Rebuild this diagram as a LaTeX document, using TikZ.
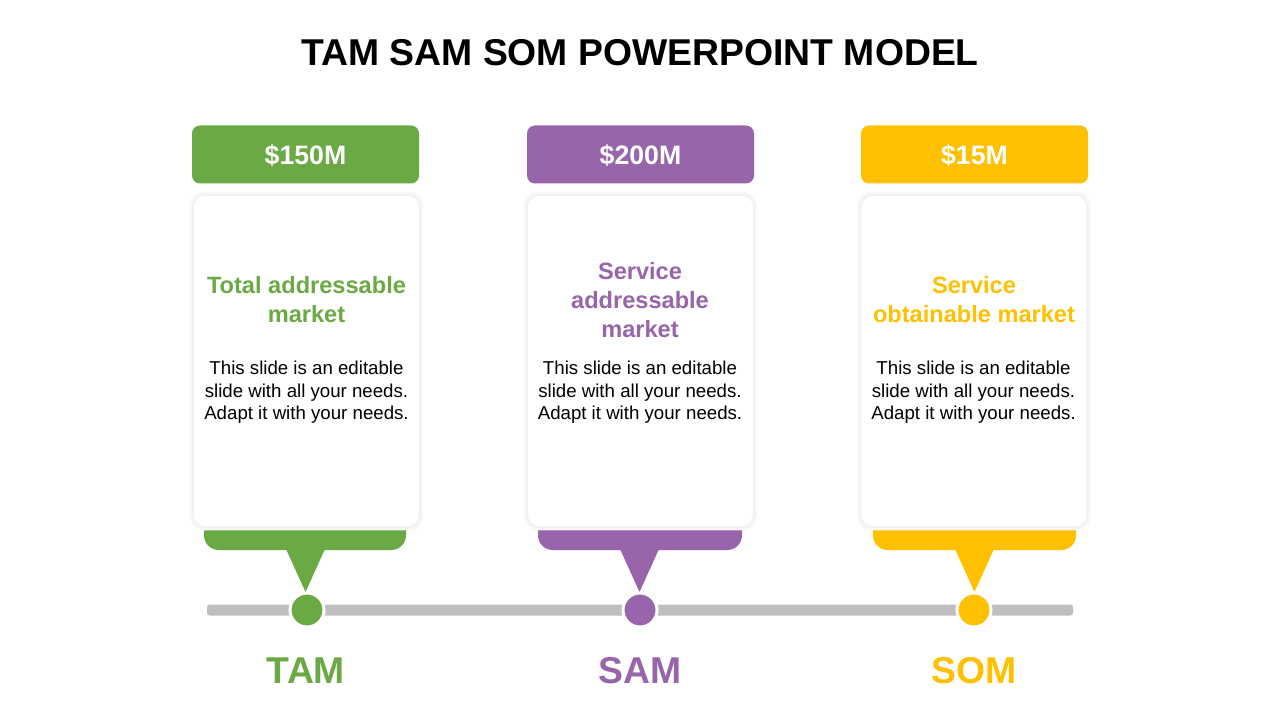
\documentclass[tikz,border=0pt]{standalone}
\usepackage{fontspec}
\setmainfont{Liberation Sans}
\usetikzlibrary{positioning}
\definecolor{tamgreen}{HTML}{6AA944}
\definecolor{sampurple}{HTML}{9865AA}
\definecolor{somyellow}{HTML}{FFC000}
\definecolor{barray}{HTML}{BFBFBF}

\begin{document}
\begin{tikzpicture}[x=0.75pt,y=-0.75pt,
    price/.style={rounded corners=6pt,minimum width=170.25pt,minimum height=43.5pt,text height=14.3pt,text depth=0pt,text=white,font=\bfseries\fontsize{20}{24}\selectfont},
    card/.style={fill=white,rounded corners=9pt,minimum width=170.25pt,minimum height=249pt,draw=black!6,line width=1.2pt},
    halo/.style={fill=black!3,rounded corners=11pt,minimum width=175pt,minimum height=254pt},
    headtext/.style={align=center,font=\bfseries\fontsize{17.7}{21.75}\selectfont},
    bodytext/.style={align=center,font=\fontsize{14}{16.9}\selectfont},
    dot/.style={circle,minimum size=25.5pt,inner sep=0pt,draw=white,line width=2.25pt},
    tag/.style={font=\bfseries\fontsize{28}{32}\selectfont}]
    \path[use as bounding box,fill=white] (0,0) rectangle (1280,720);

    \node[font=\bfseries\fontsize{28}{32}\selectfont] (title) at (640,52.5) {TAM SAM SOM POWERPOINT MODEL};

    \fill[barray,rounded corners=2pt] (207,604.5) rectangle (1073,615.5);

    \fill[tamgreen,rounded corners=11pt] (204,500) rectangle (406,550);
    \fill[tamgreen] (286,549) -- (325,549) -- (305.5,592) -- cycle;
    \fill[sampurple,rounded corners=11pt] (538,500) rectangle (742,550);
    \fill[sampurple] (620,549) -- (659,549) -- (639.5,592) -- cycle;
    \fill[somyellow,rounded corners=11pt] (873,500) rectangle (1076,550);
    \fill[somyellow] (955,549) -- (994,549) -- (974.5,592) -- cycle;

    \node[price,fill=tamgreen] (priceA) at (305.5,154.5) {\$150M};
    \node[price,fill=sampurple] (priceB) at (640.5,154.5) {\$200M};
    \node[price,fill=somyellow] (priceC) at (974.5,154.5) {\$15M};

    \node[halo] at (306.5,361) {};
    \node[halo] at (640.5,361) {};
    \node[halo] at (974,361) {};
    \node[card] (cardA) at (306.5,361) {};
    \node[card] (cardB) at (640.5,361) {};
    \node[card] (cardC) at (974,361) {};

    \node[headtext,text=tamgreen] (headA) at (306.5,300) {Total addressable\\market};
    \node[headtext,text=sampurple] (headB) at (640,300) {Service\\addressable\\market};
    \node[headtext,text=somyellow] (headC) at (974,300) {Service\\obtainable market};

    \node[bodytext] (bodyA) at (306.5,392.5) {This slide is an editable\\slide with all your needs.\\Adapt it with your needs.};
    \node[bodytext] (bodyB) at (640,392.5) {This slide is an editable\\slide with all your needs.\\Adapt it with your needs.};
    \node[bodytext] (bodyC) at (973.5,392.5) {This slide is an editable\\slide with all your needs.\\Adapt it with your needs.};

    \node[dot,fill=tamgreen] (dotA) at (307,610) {};
    \node[dot,fill=sampurple] (dotB) at (640,610) {};
    \node[dot,fill=somyellow] (dotC) at (974,610) {};

    \node[tag,text=tamgreen] (tam) at (306,671) {TAM};
    \node[tag,text=sampurple] (sam) at (640,671) {SAM};
    \node[tag,text=somyellow] (som) at (974,671) {SOM};
\end{tikzpicture}
\end{document}
